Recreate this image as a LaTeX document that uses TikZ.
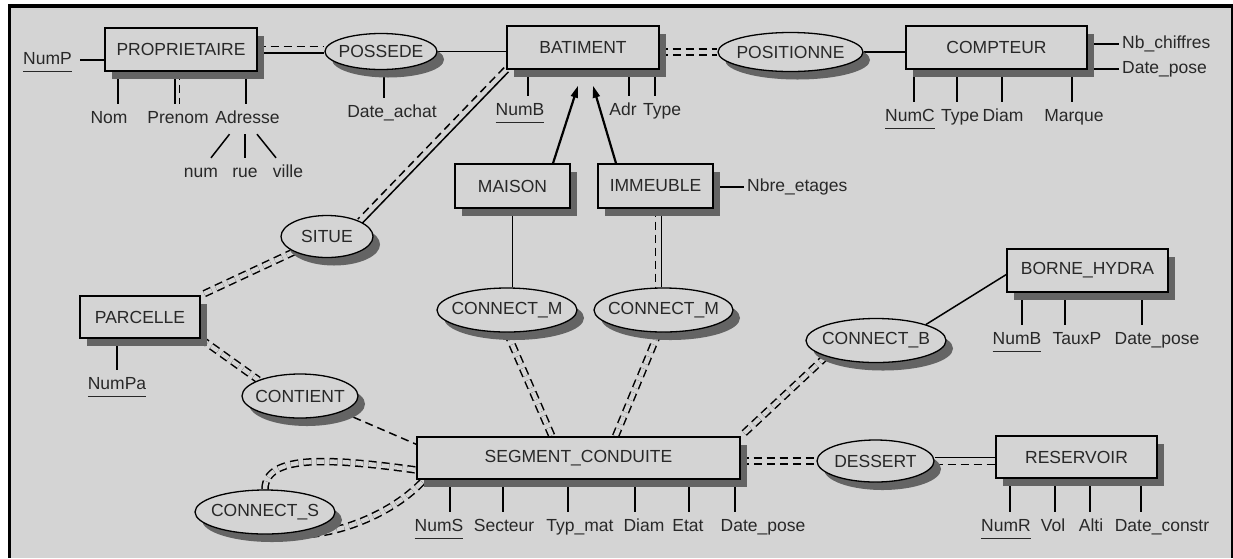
\documentclass[tikz,border=0pt]{standalone}
\usepackage{fontspec}
\setmainfont{Liberation Sans}
\usetikzlibrary{shapes.geometric,shadows,arrows.meta}
\definecolor{fond}{RGB}{212,212,212}
\definecolor{ombre}{RGB}{100,100,100}
\definecolor{encre}{RGB}{40,40,40}
\pgfdeclarelayer{arriere}
\pgfdeclarelayer{liens}
\pgfsetlayers{arriere,liens,main}
\newcommand\cle[1]{\underline{\strut #1}}

\begin{document}
\begin{tikzpicture}[x=1pt, y=-1pt,
   every node/.style={font=\fontsize{17.5}{20}\selectfont, text=encre},
   entite/.style={draw, rectangle, line width=1.4pt, fill=fond, inner sep=0pt,
                  minimum height=43pt,
                  drop shadow={shadow xshift=7pt, shadow yshift=-8pt, fill=ombre, opacity=1}},
   assoc/.style={draw, ellipse, line width=1.3pt, fill=fond, inner xsep=-70pt, inner ysep=0pt,
                 drop shadow={shadow xshift=7pt, shadow yshift=-8pt, fill=ombre, opacity=1}},
   attr/.style={anchor=base, inner xsep=3pt, inner ysep=5pt, text height=14pt, text depth=6pt},
   lien/.style={line width=1.5pt},
   tiret/.style={lien, dash pattern=on 8pt off 5pt},
   dbl/.style={tiret, double=fond, double distance=4.5pt},
   fleche/.style={line width=2.2pt, -{Triangle[length=12pt,width=7pt]}}]

\useasboundingbox (0,0) rectangle (1233,558);

% entites
\node[entite, minimum width=152pt] (proprio) at (181,49.5) {PROPRIETAIRE};
\node[entite, minimum width=152pt] (batiment) at (583,47.5) {BATIMENT};
\node[entite, minimum width=181pt] (compteur) at (996.5,47.5) {COMPTEUR};
\node[entite, minimum width=115pt, minimum height=44pt] (maison) at (512.5,186) {MAISON};
\node[entite, minimum width=115pt, minimum height=44pt] (immeuble) at (655.5,186) {IMMEUBLE};
\node[entite, minimum width=120pt, minimum height=42pt] (parcelle) at (140,317) {PARCELLE};
\node[entite, minimum width=161pt] (borne) at (1087.5,270.5) {BORNE\_HYDRA};
\node[entite, minimum width=323pt, minimum height=42pt] (segment) at (578.5,458) {SEGMENT\_CONDUITE};
\node[entite, minimum width=161pt, minimum height=42pt] (reservoir) at (1076.5,457) {RESERVOIR};

% associations
\node[assoc, minimum width=112pt, minimum height=36pt] (possede) at (381,51.5) {POSSEDE};
\node[assoc, minimum width=145pt, minimum height=39pt] (positionne) at (790.5,52) {POSITIONNE};
\node[assoc, minimum width=92pt, minimum height=42pt] (situe) at (327,236.5) {SITUE};
\node[assoc, minimum width=140pt, minimum height=44pt] (connectMa) at (507,310) {CONNECT\_M};
\node[assoc, minimum width=139pt, minimum height=44pt] (connectIm) at (663.5,310) {CONNECT\_M};
\node[assoc, minimum width=140pt, minimum height=44pt] (connectB) at (876,340.5) {CONNECT\_B};
\node[assoc, minimum width=116pt, minimum height=44pt] (contient) at (300,396) {CONTIENT};
\node[assoc, minimum width=140pt, minimum height=44pt] (connectS) at (265,512) {CONNECT\_S};
\node[assoc, minimum width=117pt, minimum height=42pt] (dessert) at (875.5,461) {DESSERT};

% attributs
\node[attr] (nump) at (47.5,64) {\cle{NumP}};
\node[attr] (nom) at (109,123) {Nom};
\node[attr] (prenom) at (178,123) {Prenom};
\node[attr] (adresse) at (247.5,123) {Adresse};
\node[attr] (num) at (201,177) {num};
\node[attr] (rue) at (245,177) {rue};
\node[attr] (ville) at (288,177) {ville};
\node[attr] (dateachat) at (392,117) {Date\_achat};
\node[attr] (numb) at (520,115) {\cle{NumB}};
\node[attr] (adr) at (623,115) {Adr};
\node[attr] (typeb) at (662,115) {Type};
\node[attr] (numc) at (910,121) {\cle{NumC}};
\node[attr] (typec) at (960,121) {Type};
\node[attr] (diamc) at (1003,121) {Diam};
\node[attr] (marque) at (1074,121) {Marque};
\node[attr, anchor=base west] (nbch) at (1119,48) {Nb\_chiffres};
\node[attr, anchor=base west] (datepose) at (1119,73) {Date\_pose};
\node[attr, anchor=base west] (nbre) at (744,191) {Nbre\_etages};
\node[attr] (numpa) at (117,389) {\cle{NumPa}};
\node[attr] (numbb) at (1017,344) {\cle{NumB}};
\node[attr] (tauxp) at (1077,344) {TauxP};
\node[attr] (dateposeb) at (1157,344) {Date\_pose};
\node[attr] (nums) at (439,531) {\cle{NumS}};
\node[attr] (secteur) at (504,531) {Secteur};
\node[attr] (typmat) at (580,531) {Typ\_mat};
\node[attr] (diams) at (644,531) {Diam};
\node[attr] (etat) at (688,531) {Etat};
\node[attr] (dateposes) at (763,531) {Date\_pose};
\node[attr] (numr) at (1006,531) {\cle{NumR}};
\node[attr] (vol) at (1053,531) {Vol};
\node[attr] (alti) at (1091,531) {Alti};
\node[attr] (dateconstr) at (1162,531) {Date\_constr};

\coordinate (pointeM) at ([xshift=-5pt,yshift=-16pt]batiment.south);
\coordinate (pointeI) at ([xshift=10pt,yshift=-16pt]batiment.south);

\begin{pgfonlayer}{arriere}
  \fill[white] (0,0) rectangle (1233,558);
  \fill[fond] (8,4) rectangle (1233,558);
  \draw[line width=4pt] (8,6) -- (1233,6);
  \draw[line width=3pt] (9.5,4) -- (9.5,558);
  \draw[line width=2pt] (1232,4) -- (1232,558);
\end{pgfonlayer}

\begin{pgfonlayer}{liens}
  % relations
  \draw[tiret] (proprio.east |- possede.west) ++(0,-5) -- ([yshift=5pt]possede.west);
  \draw[lien] (proprio.east |- possede.west) ++(0,1.5) -- ([yshift=-1.5pt]possede.west);
  \draw[lien] (possede.east) -- (batiment.west |- possede.east);
  \draw[dbl] (batiment.east |- positionne.west) -- (positionne.west);
  \draw[lien] (positionne.east) -- (compteur.west |- positionne.east);
  \draw[fleche] ([xshift=40.5pt]maison.north) -- (pointeM);
  \draw[fleche] ([xshift=-39.5pt]immeuble.north) -- (pointeI);
  \draw[tiret] ([shift={(-2.2pt,2.1pt)}]batiment.south west) -- ([shift={(-2.2pt,2.1pt)}]situe.north east);
  \draw[lien] ([shift={(2.2pt,-2.1pt)}]batiment.south west) -- ([shift={(2.2pt,-2.1pt)}]situe.north east);
  \draw[dbl] (situe.south west) -- (parcelle.north east);
  \draw[dbl] (parcelle.south east) -- (contient.north west);
  \draw[tiret] (contient.south east) -- ([yshift=-8pt]segment.north west);
  \draw[dbl] (connectS.north) .. controls +(0,-35) and +(-87,-12) .. ([yshift=-12pt]segment.west);
  \draw[dbl] ([xshift=20pt]connectS.south) .. controls +(50,4) and +(-30,33) .. ([xshift=8pt]segment.south west);
  \draw[lien] (maison.south) -- (maison.south |- connectMa.north);
  \draw[tiret] (immeuble.south) -- (immeuble.south |- connectIm.north);
  \draw[lien] (immeuble.south |- connectIm.north) ++(6,0) -- ([xshift=6pt]immeuble.south);
  \draw[dbl] (connectMa.south) -- ([xshift=-26.5pt]segment.north);
  \draw[dbl] ([xshift=-5pt]connectIm.south) -- ([xshift=37pt]segment.north);
  \draw[lien] (connectB.north east) -- ([yshift=-4pt]borne.west);
  \draw[dbl] (connectB.south west) -- (segment.north east);
  \draw[dbl] (segment.east |- dessert.west) -- (dessert.west);
  \draw[lien] (dessert.east) ++(0,-3.5) -- ([yshift=3.5pt]reservoir.west |- dessert.east);
  \draw[tiret] (dessert.east) ++(0,3.5) -- ([yshift=-3.5pt]reservoir.west |- dessert.east);
  % attributs
  \draw[lien] ([xshift=5pt]nump.east) -- (nump.east -| proprio.west);
  \foreach \a/\dx in {nom/9,prenom/-3,adresse/-1.5}
    \draw[lien] (\a.north |- proprio.south) ++(\dx,0) -- ([xshift=\dx pt]\a.north);
  \draw[tiret] (prenom.north |- proprio.south) ++(1.5,0) -- ([xshift=1.5pt]prenom.north);
  \draw[lien] ([xshift=-18pt]adresse.south) -- ([xshift=10pt]num.north);
  \draw[lien] ([xshift=-2.5pt]adresse.south) -- (rue.north);
  \draw[lien] ([xshift=9.5pt]adresse.south) -- ([xshift=-12pt]ville.north);
  \draw[lien] (dateachat.north |- possede.south) ++(-8,0) -- ([xshift=-8pt]dateachat.north);
  \foreach \a/\dx in {numb/8,adr/6,typeb/-7}
    \draw[lien] (\a.north |- batiment.south) ++(\dx,0) -- ([xshift=\dx pt]\a.north);
  \foreach \a/\dx in {numc/4,typec/-3,diamc/-1,marque/-2}
    \draw[lien] (\a.north |- compteur.south) ++(\dx,0) -- ([xshift=\dx pt]\a.north);
  \draw[lien] (compteur.east |- nbch.west) -- (nbch.west);
  \draw[lien] (compteur.east |- datepose.west) -- (datepose.west);
  \draw[lien] (immeuble.east |- nbre.west) -- (nbre.west);
  \draw[lien] (numpa.north |- parcelle.south) -- (numpa.north);
  \foreach \a/\dx in {numbb/5,tauxp/-12,dateposeb/-15}
    \draw[lien] (\a.north |- borne.south) ++(\dx,0) -- ([xshift=\dx pt]\a.north);
  \foreach \a/\dx in {nums/11,secteur/-1,typmat/-12,diams/-9,etat/1,dateposes/-28}
    \draw[lien] (\a.north |- segment.south) ++(\dx,0) -- ([xshift=\dx pt]\a.north);
  \foreach \a/\dx in {numr/4,vol/2,alti/-1,dateconstr/-21}
    \draw[lien] (\a.north |- reservoir.south) ++(\dx,0) -- ([xshift=\dx pt]\a.north);
\end{pgfonlayer}

\end{tikzpicture}
\end{document}
